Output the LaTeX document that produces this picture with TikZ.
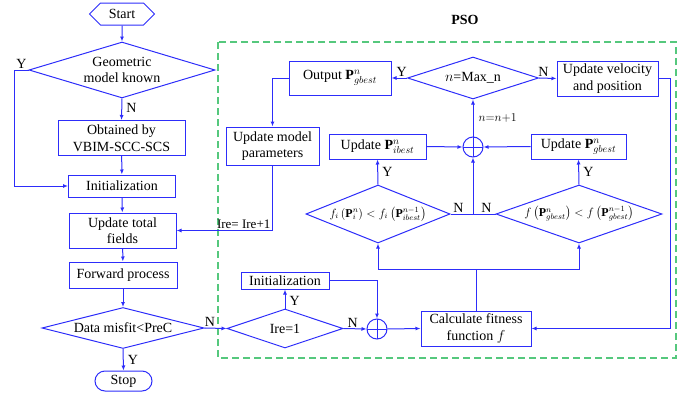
\documentclass[tikz,border=0pt]{standalone}
\usepackage{amsmath, amssymb}
\usepackage{fontspec}
\setmainfont{Liberation Serif}
\usepackage{xcolor}
\usepackage{tikz}
\usetikzlibrary{positioning,arrows.meta,shapes.geometric,shapes.symbols,calc}
\definecolor{flowblue}{RGB}{45,45,250}
\definecolor{psogreen}{RGB}{85,200,125}

\begin{document}
\begin{tikzpicture}[x=1pt, y=-1pt,
  font=\fontsize{14}{16.5}\selectfont,
  box/.style={rectangle, draw=flowblue, line width=1pt, inner sep=1pt, align=center},
  decision/.style={diamond, draw=flowblue, line width=1pt, inner sep=0pt, align=center},
  sumnode/.style={circle, draw=flowblue, line width=1pt, minimum size=20pt, inner sep=0pt,
                  path picture={\draw[flowblue, line width=1pt]
                    (path picture bounding box.north) -- (path picture bounding box.south)
                    (path picture bounding box.west) -- (path picture bounding box.east);}},
  arrow/.style={-{Latex[length=5pt,width=4pt]}, line width=1pt, color=flowblue},
  link/.style={line width=1pt, color=flowblue},
  lbl/.style={inner sep=1pt, text=black}
]
  \useasboundingbox (0,0) rectangle (694,399);
  \draw[psogreen, line width=1.2pt, dash pattern=on 7pt off 4pt] (218,42) rectangle (676,358);
  \node[font=\fontsize{14}{16}\selectfont\bfseries] (pso) at (465,20) {PSO};

  \node[signal, signal to=west and east, draw=flowblue, line width=1pt, inner sep=1pt,
        minimum width=65pt, minimum height=22pt] (start) at (122,14) {Start};
  \node[decision, aspect=3.32, minimum width=186pt, minimum height=56pt] (geo) at (122,70) {Geometric\\model known};
  \node[box, minimum width=127pt, minimum height=35pt] (obt) at (121.5,138) {Obtained by\\VBIM-SCC-SCS};
  \node[box, minimum width=107pt, minimum height=22pt] (init) at (122,186) {Initialization};
  \node[box, minimum width=107pt, minimum height=35pt] (upd) at (122.5,230.5) {Update total\\fields};
  \node[box, minimum width=108pt, minimum height=26pt] (fwd) at (123,275) {Forward process};
  \node[decision, aspect=3.95, minimum width=162pt, minimum height=41pt] (misfit) at (123,328) {Data misfit<PreC};
  \node[box, rounded corners=10pt, minimum width=57pt, minimum height=20pt] (stop) at (123.5,381) {Stop};

  \node[decision, aspect=2.97, minimum width=116pt, minimum height=39pt] (ire) at (285,328.5) {Ire=1};
  \node[box, minimum width=88pt, minimum height=17pt] (init2) at (285,280.5) {Initialization};
  \node[sumnode] (sumb) at (377,329) {};
  \node[box, minimum width=110pt, minimum height=35pt] (calc) at (476,328.5) {Calculate fitness\\function $f$};

  \node[decision, aspect=2.48, minimum width=144pt, minimum height=58pt, font=\fontsize{12}{14}\selectfont] (dfi) at (378,214)
    {$f_i\left(\mathbf{P}_i^{n}\right)<f_i\left(\mathbf{P}_{ibest}^{n-1}\right)$};
  \node[decision, aspect=2.86, minimum width=166pt, minimum height=58pt, font=\fontsize{12}{14}\selectfont] (dfg) at (579,214)
    {$f\left(\mathbf{P}_{gbest}^{n}\right)<f\left(\mathbf{P}_{gbest}^{n-1}\right)$};
  \node[box, minimum width=97pt, minimum height=25pt] (ibest) at (377.5,146.5) {Update $\mathbf{P}_{ibest}^{n}$};
  \node[box, minimum width=95pt, minimum height=25pt] (gbest) at (578.5,146.5) {Update $\mathbf{P}_{gbest}^{n}$};
  \node[sumnode] (sumt) at (473,147) {};
  \node[decision, aspect=3.12, minimum width=131pt, minimum height=42pt] (maxn) at (473,78) {$n$=Max\_n};
  \node[box, minimum width=102pt, minimum height=34pt] (outp) at (340,78) {Output $\mathbf{P}_{gbest}^{n}$};
  \node[box, minimum width=101pt, minimum height=35pt] (vel) at (607.5,78.5) {Update velocity\\and position};
  \node[box, minimum width=93pt, minimum height=38pt] (model) at (272.5,146) {Update model\\parameters};

  \coordinate (split) at (476,269);
  \coordinate (join) at (473,214);

  \draw[arrow] (start) -- (geo);
  \draw[arrow] (geo.south) -- node[lbl, right=3pt, pos=0.45] {N} (obt.north);
  \draw[arrow] (geo.west) -- node[lbl, above, pos=0.5] {Y} ++(-14,0) |- (init.west);
  \draw[arrow] (obt) -- (init);
  \draw[arrow] (init) -- (upd);
  \draw[arrow] (upd) -- (fwd);
  \draw[arrow] (fwd) -- (misfit);
  \draw[arrow] (misfit.south) -- node[lbl, right=3pt] {Y} (stop.north);
  \draw[arrow] (misfit.east) -- node[lbl, above, pos=0.25] {N} (ire.west);
  \draw[arrow] (ire.north) -- node[lbl, right=3pt, pos=0.4] {Y} (init2.south);
  \draw[arrow] (ire.east) -- node[lbl, above, pos=0.4] {N} (sumb.west);
  \draw[arrow] (init2.east) -| (sumb.north);
  \draw[arrow] (sumb.east) -- (calc.west);

  \draw[link] (calc.north) -- (split);
  \draw[arrow] (split) -| (dfi.south);
  \draw[arrow] (split) -| (dfg.south);
  \draw[arrow] (dfi.north) -- node[lbl, right=3pt] {Y} (ibest.south);
  \draw[arrow] (dfg.north) -- node[lbl, right=3pt] {Y} (gbest.south);
  \draw[link] (dfi.east) -- node[lbl, above, pos=0.35] {N} (join);
  \draw[link] (dfg.west) -- node[lbl, above, pos=0.4] {N} (join);
  \draw[arrow] (join) -- (sumt.south);
  \draw[arrow] (ibest.east) -- (sumt.west);
  \draw[arrow] (gbest.west) -- (sumt.east);
  \draw[arrow] (sumt.north) -- node[lbl, right=4pt, font=\fontsize{12}{14}\selectfont] {$n{=}n{+}1$} (maxn.south);
  \draw[arrow] (maxn.west) -- node[lbl, above, pos=0.35] {Y} (outp.east);
  \draw[arrow] (maxn.east) -- node[lbl, above, pos=0.25] {N} (vel.west);
  \draw[arrow] (vel.east) -- ++(12,0) |- (calc.east);
  \draw[arrow] (outp.west) -| (model.north);
  \draw[arrow] (model.south) |- node[lbl, above, pos=0.65, font=\fontsize{13}{15}\selectfont] {Ire= Ire+1} (upd.east);
\end{tikzpicture}
\end{document}
